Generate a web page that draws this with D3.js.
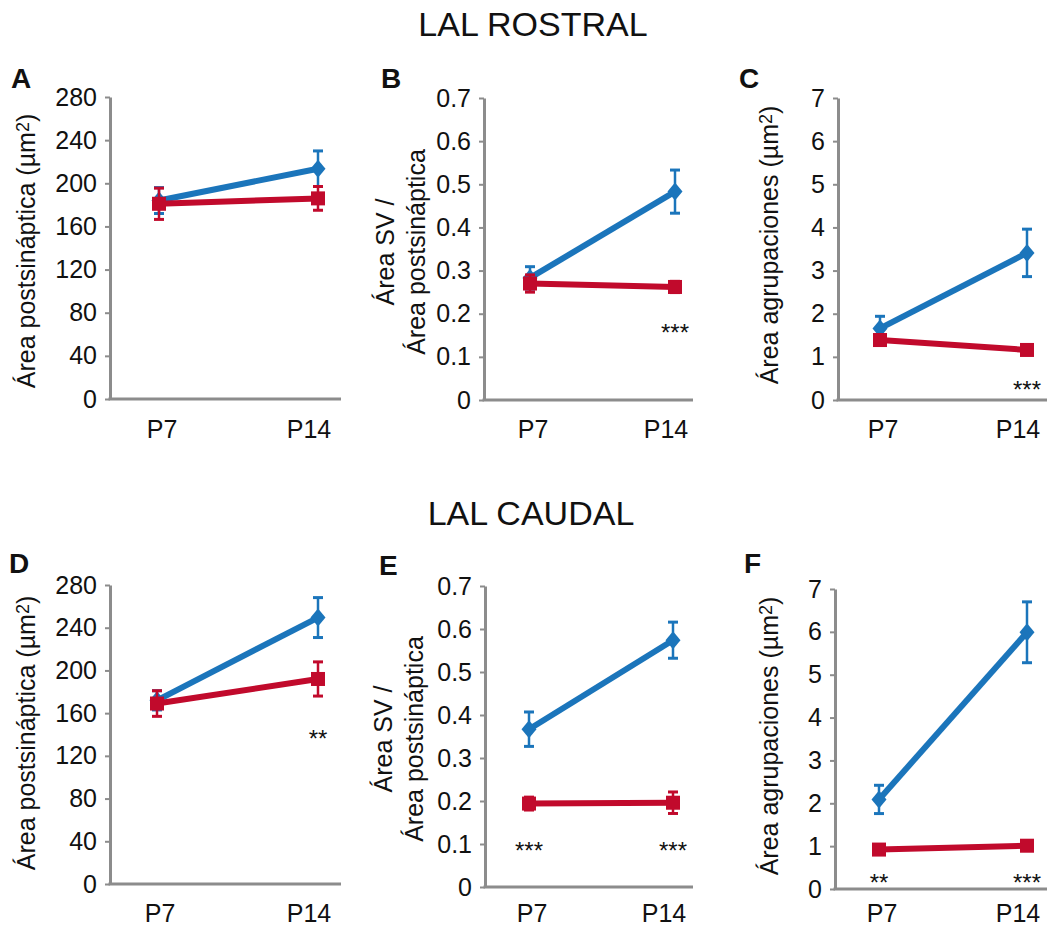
<!DOCTYPE html>
<html>
<head>
<meta charset="utf-8">
<script src="https://cdn.jsdelivr.net/npm/d3@7/dist/d3.min.js"></script>
<style>
  html, body { margin: 0; padding: 0; background: #fff; }
  svg { display: block; font-family: "Liberation Sans", Arial, Helvetica, sans-serif; }
</style>
</head>
<body>
<svg id="chart" width="1047" height="929"></svg>
<script>
// ---- data ----
const categories = ["P7", "P14"];
const panelLetters = ["A", "B", "C", "D", "E", "F"];
const sectionTitles = ["LAL ROSTRAL", "LAL CAUDAL"];
// "^" marks a superscript run that ends at the next "^"
const yLabels = [
  ["Área postsináptica (µm^2^)"],
  ["Área SV /", "Área postsináptica"],
  ["Área agrupaciones (µm^2^)"],
  ["Área postsináptica (µm^2^)"],
  ["Área SV /", "Área postsináptica"],
  ["Área agrupaciones (µm^2^)"]
];
const yMax = [280, 0.7, 7, 280, 0.7, 7];
const areaTicks = [0, 40, 80, 120, 160, 200, 240, 280];
const ratioTicks = [0, 0.1, 0.2, 0.3, 0.4, 0.5, 0.6, 0.7];
const clusterTicks = [0, 1, 2, 3, 4, 5, 6, 7];
const yTicks = [areaTicks, ratioTicks, clusterTicks, areaTicks, ratioTicks, clusterTicks];

// blue series (diamonds)
const blueMeans  = [[184, 213.5], [0.283, 0.483], [1.66, 3.41], [172, 249.5], [0.367, 0.574], [2.09, 5.99]];
const blueErrors = [[12, 16.5], [0.026, 0.05], [0.28, 0.55], [9, 18.7], [0.04, 0.042], [0.33, 0.71]];
// red series (squares)
const redMeans   = [[181, 186], [0.27, 0.262], [1.39, 1.16], [169, 192], [0.194, 0.196], [0.92, 1.01]];
const redErrors  = [[14.5, 11], [0.02, 0.013], [0.12, 0.05], [12, 16], [0.015, 0.025], [0.04, 0.04]];

// significance marks
const sigPanel    = [1, 2, 3, 4, 4, 5, 5];
const sigCategory = ["P14", "P14", "P14", "P7", "P14", "P7", "P14"];
const sigText     = ["***", "***", "**", "***", "***", "**", "***"];
const sigAt       = [0.17, 0.37, 141, 0.098, 0.098, 0.28, 0.28];

// ---- layout ----
const BLUE = "#1b75bb", RED = "#c10a2c", AXIS = "#8c8c8c", INK = "#111";
const frames = [
  { ax: 110, top: 97,  bottom: 399, p7: 159, p14: 318,  xEnd: 341,  lx: 35,  cy: 251, catY: 438, letter: [11, 88]  },
  { ax: 484, top: 98,  bottom: 400, p7: 530, p14: 675,  xEnd: 693,  lx: 425, cy: 252, catY: 438, letter: [381, 88] },
  { ax: 838, top: 98,  bottom: 400, p7: 880, p14: 1027, xEnd: 1047, lx: 778, cy: 245, catY: 438, letter: [739, 88] },
  { ax: 110, top: 585, bottom: 884, p7: 157, p14: 318,  xEnd: 341,  lx: 35,  cy: 733, catY: 922, letter: [9, 573]  },
  { ax: 485, top: 586, bottom: 887, p7: 529, p14: 673,  xEnd: 693,  lx: 423, cy: 739, catY: 922, letter: [379, 575] },
  { ax: 835, top: 589, bottom: 889, p7: 879, p14: 1027, xEnd: 1047, lx: 778, cy: 736, catY: 922, letter: [744, 573] }
];
const labelShift = { P7: 3, P14: -9 };

const svg = d3.select("#chart");

// section headings
svg.selectAll("text.section")
  .data(sectionTitles)
  .join("text")
  .attr("class", "section")
  .attr("x", (d, i) => i === 0 ? 533 : 531)
  .attr("y", (d, i) => i === 0 ? 36 : 525)
  .attr("text-anchor", "middle")
  .attr("font-size", 34)
  .attr("fill", INK)
  .text(d => d);

const fmt = v => (v === 0 ? "0" : String(+v.toFixed(2)));

frames.forEach((f, i) => {
  const g = svg.append("g");
  const y = d3.scaleLinear().domain([0, yMax[i]]).range([f.bottom, f.top]);
  const x = d3.scalePoint().domain(categories).range([f.p7, f.p14]);

  // panel letter
  g.append("text")
    .attr("x", f.letter[0]).attr("y", f.letter[1])
    .attr("font-size", 28).attr("font-weight", "bold").attr("fill", INK)
    .text(panelLetters[i]);

  // y axis
  const yAxis = d3.axisLeft(y).tickValues(yTicks[i]).tickFormat(fmt).tickSize(5).tickSizeOuter(0).tickPadding(8);
  const ya = g.append("g").attr("transform", `translate(${f.ax},0)`).call(yAxis);
  ya.select(".domain").attr("stroke", AXIS).attr("stroke-width", 3);
  ya.selectAll(".tick line").attr("stroke", AXIS).attr("stroke-width", 2);
  ya.selectAll(".tick text").attr("font-size", 25).attr("fill", INK).attr("font-family", null);

  // x axis line
  g.append("line")
    .attr("x1", f.ax - 1.5).attr("x2", f.xEnd)
    .attr("y1", f.bottom).attr("y2", f.bottom)
    .attr("stroke", AXIS).attr("stroke-width", 3);

  // category labels
  g.selectAll("text.cat")
    .data(categories)
    .join("text")
    .attr("class", "cat")
    .attr("x", d => x(d) + labelShift[d])
    .attr("y", f.catY)
    .attr("text-anchor", "middle")
    .attr("font-size", 25).attr("fill", INK)
    .text(d => d);

  // y label (one or two lines, rotated), with superscript runs
  const lines = yLabels[i];
  const lab = g.append("text")
    .attr("transform", `translate(${f.lx},${f.cy}) rotate(-90)`)
    .attr("text-anchor", "middle")
    .attr("font-size", 25).attr("fill", INK);
  lines.forEach((t, k) => {
    const parts = t.split("^");
    parts.forEach((part, j) => {
      if (!part) return;
      const sup = j % 2 === 1;
      const ts = lab.append("tspan").text(part);
      if (j === 0) ts.attr("x", 0).attr("y", (k - (lines.length - 1)) * 31);
      if (sup) ts.attr("font-size", 18).attr("dy", -6);
      else if (j > 0) ts.attr("dy", 6);
    });
  });

  // series
  const series = [
    { color: BLUE, means: blueMeans[i], errs: blueErrors[i], shape: "diamond" },
    { color: RED,  means: redMeans[i],  errs: redErrors[i],  shape: "square" }
  ];
  series.forEach(s => {
    const pts = categories.map((c, k) => ({ c, m: s.means[k], e: s.errs[k] }));
    const sg = g.append("g");

    sg.append("path")
      .datum(pts)
      .attr("fill", "none")
      .attr("stroke", s.color)
      .attr("stroke-width", 6)
      .attr("d", d3.line().x(d => x(d.c)).y(d => y(d.m)));

    // error bars
    const eb = sg.selectAll("g.err").data(pts).join("g").attr("class", "err");
    eb.append("line")
      .attr("x1", d => x(d.c)).attr("x2", d => x(d.c))
      .attr("y1", d => y(d.m - d.e)).attr("y2", d => y(d.m + d.e))
      .attr("stroke", s.color).attr("stroke-width", 2.5);
    [-1, 1].forEach(sign => {
      eb.append("line")
        .attr("x1", d => x(d.c) - 5).attr("x2", d => x(d.c) + 5)
        .attr("y1", d => y(d.m + sign * d.e)).attr("y2", d => y(d.m + sign * d.e))
        .attr("stroke", s.color).attr("stroke-width", 3);
    });

    // markers
    if (s.shape === "square") {
      sg.selectAll("rect.mk").data(pts).join("rect")
        .attr("class", "mk")
        .attr("x", d => x(d.c) - 7).attr("y", d => y(d.m) - 7)
        .attr("width", 14).attr("height", 14)
        .attr("fill", s.color);
    } else {
      sg.selectAll("path.mk").data(pts).join("path")
        .attr("class", "mk")
        .attr("d", d => {
          const cx = x(d.c), cy = y(d.m);
          return `M${cx},${cy - 9}L${cx + 7.5},${cy}L${cx},${cy + 9}L${cx - 7.5},${cy}Z`;
        })
        .attr("fill", s.color);
    }
  });

  // significance marks for this panel
  sigPanel.forEach((p, k) => {
    if (p !== i) return;
    g.append("text")
      .attr("x", x(sigCategory[k]))
      .attr("y", y(sigAt[k]))
      .attr("dy", "0.58em")
      .attr("text-anchor", "middle")
      .attr("font-size", 24).attr("fill", INK)
      .text(sigText[k]);
  });
});
</script>
</body>
</html>
